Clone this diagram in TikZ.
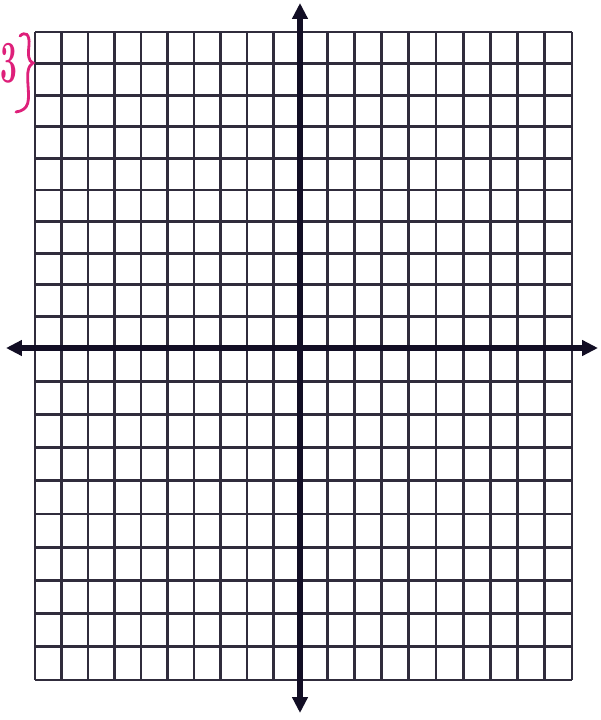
\documentclass[tikz,border=0pt]{standalone}
\usepackage{xcolor}
\usetikzlibrary{arrows.meta}
\definecolor{inkpink}{RGB}{222,32,122}
\definecolor{gridink}{RGB}{48,44,60}
\definecolor{axisink}{RGB}{18,14,36}
\tikzset{
    gridline/.style={draw=gridink, line width=1.5pt},
    axis/.style={draw=axisink, line width=3pt,
        {Triangle[length=9pt,width=8.5pt]}-{Triangle[length=9pt,width=8.5pt]}},
    handwriting/.style={draw=inkpink, line width=1.6pt, line cap=round},
}

\begin{document}
\begin{tikzpicture}[x=0.02cm, y=-0.02cm]
	\useasboundingbox[fill=white] (0,0) rectangle (600,720);
	% grid, left and right halves
	\foreach \i in {0,...,10} {
		\draw[gridline] ({35+26.5*\i},32) -- ({35+26.5*\i},680);
		\draw[gridline] ({300+27.2*\i},32) -- ({300+27.2*\i},680);
		\draw[gridline] (35,{32+31.6*\i}) -- (572,{32+31.6*\i});
		\draw[gridline] (35,{348+33.2*\i}) -- (572,{348+33.2*\i});
	}
	% axes
	\coordinate (xleft) at (6,348);
	\coordinate (xright) at (598,348);
	\coordinate (ytop) at (300,3);
	\coordinate (ybottom) at (300,713);
	\draw[axis] (xleft) -- (xright);
	\draw[axis] (ybottom) -- (ytop);
	% scale note
	\node[inkpink, anchor=west, inner sep=0pt, font=\fontsize{34}{34}\bfseries\selectfont] (scalenote) at (0,63) {\scalebox{0.5}[1]{3}};
	\draw[handwriting] (20,36) .. controls (25,31) and (30,34) .. (29,45)
		.. controls (28,55) and (28,61) .. (33,63)
		.. controls (28,66) and (27,72) .. (28,85)
		.. controls (29,100) and (30,110) .. (16,112);
\end{tikzpicture}
\end{document}
